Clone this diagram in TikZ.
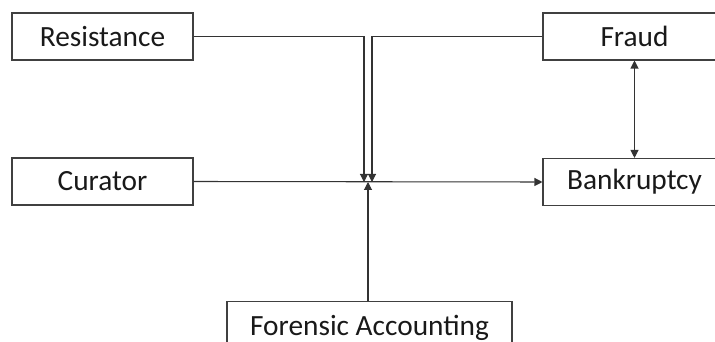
\documentclass[tikz,border=0pt]{standalone}
\usepackage{fontspec}
\setmainfont{Carlito}
\usetikzlibrary{arrows.meta}
\begin{document}
\begin{tikzpicture}[x=0.75pt,y=-0.75pt,
  box/.style={draw=black!75, line width=0.8pt, minimum width=#1*0.75pt, minimum height=47*0.75pt, inner sep=0pt, font=\fontsize{22}{26}\selectfont, text=black!90},
  conn/.style={line width=0.8pt, draw=black!80},
  tip/.style={-{Triangle[length=6pt,width=6pt]}}]
\useasboundingbox (0,0) rectangle (715,342);
\clip (0,0) rectangle (715,342);
\node[box=181] (res) at (102.5,36.5) {Resistance};
\node[box=181] (cur) at (102.5,181.5) {Curator};
\node[box=183] (fraud) at (634.5,36.5) {Fraud};
\node[box=183] (bank) at (634.5,182) {Bankruptcy};
\node[box=285, minimum height=60*0.75pt, anchor=north] (for) at (369.5,301) {\raisebox{-3pt}[0pt][0pt]{Forensic Accounting}};
\coordinate (j1) at (364,182);
\coordinate (j2) at (372,182);
\coordinate (j3) at (368,182);
\draw[conn,tip] (res.east) -| (j1);
\draw[conn,tip] (fraud.west) -| (j2);
\draw[conn,tip] (cur.east) -- (bank.west);
\draw[conn,tip] (for.north -| j3) -- (j3);
\draw[conn,{Triangle[length=6pt,width=6pt]}-{Triangle[length=6pt,width=6pt]}] (fraud.south) -- (bank.north);
\end{tikzpicture}
\end{document}
